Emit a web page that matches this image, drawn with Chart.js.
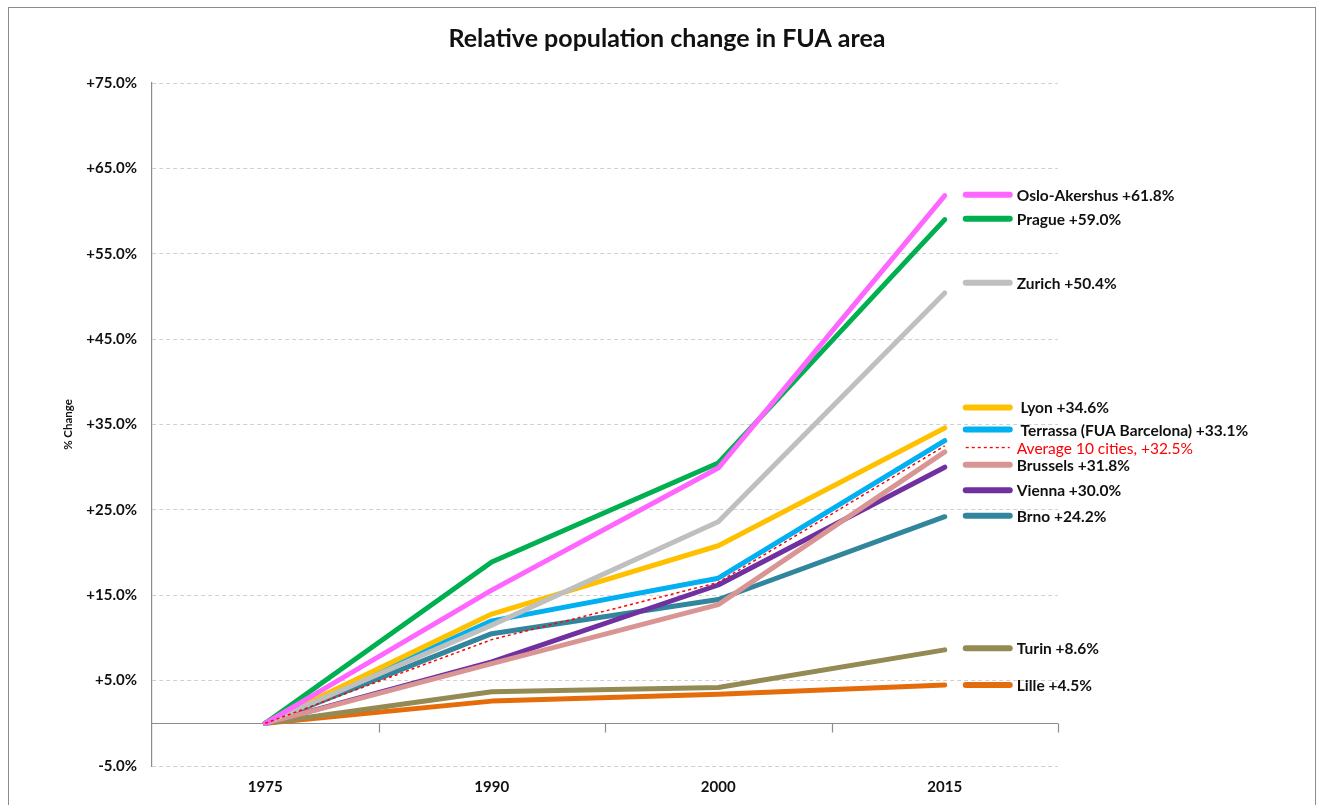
<!DOCTYPE html>
<html>
<head>
<meta charset="utf-8">
<script src="https://cdn.jsdelivr.net/npm/chart.js@4.4.1/dist/chart.umd.min.js"></script>
<style>
html,body{margin:0;padding:0;background:#fff;}
#wrap{width:1324px;height:805px;position:relative;}
</style>
</head>
<body>
<div id="wrap"><canvas id="c" width="1324" height="805"></canvas></div>
<script>
const years = ['1975', '1990', '2000', '2015'];

const seriesNames = ['Oslo-Akershus', 'Prague', 'Zurich', 'Lyon', 'Terrassa (FUA Barcelona)', 'Average 10 cities', 'Brussels', 'Vienna', 'Brno', 'Turin', 'Lille'];
const legendLabels = ['Oslo-Akershus +61.8%', 'Prague +59.0%', 'Zurich +50.4%', ' Lyon +34.6%', ' Terrassa (FUA Barcelona) +33.1%', 'Average 10 cities, +32.5%', 'Brussels +31.8%', 'Vienna +30.0%', 'Brno +24.2%', 'Turin +8.6%', 'Lille +4.5%'];

const oslo     = [0, 15.6, 29.9, 61.8];
const prague   = [0, 18.9, 30.5, 59.0];
const zurich   = [0, 11.5, 23.6, 50.4];
const lyon     = [0, 12.8, 20.8, 34.6];
const terrassa = [0, 12.0, 17.0, 33.1];
const average  = [0, 9.8, 16.5, 32.5];
const brussels = [0, 7.0, 13.9, 31.8];
const vienna   = [0, 7.2, 16.2, 30.0];
const brno     = [0, 10.5, 14.5, 24.2];
const turin    = [0, 3.7, 4.2, 8.6];
const lille    = [0, 2.6, 3.4, 4.5];

// vertical position (in % units) of each legend entry beside the line ends
const legendAt = [61.9, 59.1, 51.6, 37.0, 34.4, 32.3, 30.3, 27.3, 24.3, 8.8, 4.5];

const colors = ['#FF66FF', '#00B050', '#BFBFBF', '#FFC000', '#00B0F0', '#FF0000', '#D99594', '#7030A0', '#31859C', '#948A54', '#E46C0A'];
const values = [oslo, prague, zurich, lyon, terrassa, average, brussels, vienna, brno, turin, lille];

const titleText = 'Relative population change in FUA area';
const FONT = 'Lato, "Liberation Sans", Arial, sans-serif';

const datasets = values.map((v, i) => {
  const isAvg = seriesNames[i] === 'Average 10 cities';
  return {
    label: seriesNames[i],
    data: v,
    borderColor: colors[i],
    backgroundColor: colors[i],
    borderWidth: isAvg ? 1.5 : 5,
    borderDash: isAvg ? [3, 3] : [],
    borderCapStyle: isAvg ? 'butt' : 'round',
    borderJoinStyle: 'round',
    pointRadius: 0,
    tension: 0,
    fill: false,
    order: isAvg ? 0 : 1
  };
});

const decor = {
  id: 'decor',
  beforeDraw(chart) {
    const ctx = chart.ctx;
    ctx.save();
    ctx.strokeStyle = '#8c8c8c';
    ctx.lineWidth = 1;
    ctx.strokeRect(8.5, 7.5, 1307, 820);
    ctx.fillStyle = '#111';
    ctx.font = 'bold 25px ' + FONT;
    ctx.textAlign = 'center';
    ctx.textBaseline = 'middle';
    ctx.fillText(titleText, 667, 39);
    ctx.restore();
  },
  beforeDatasetsDraw(chart) {
    const ctx = chart.ctx;
    const xs = chart.scales.x, ys = chart.scales.y;
    const y0 = Math.round(ys.getPixelForValue(0)) + 0.5;
    ctx.save();
    ctx.strokeStyle = '#8c8c8c';
    ctx.lineWidth = 1.2;
    ctx.beginPath();
    ctx.moveTo(xs.left, y0);
    ctx.lineTo(xs.right, y0);
    const step = xs.getPixelForValue(1) - xs.getPixelForValue(0);
    for (let i = 0; i < years.length; i++) {
      const bx = Math.round(xs.getPixelForValue(i) + step / 2) + 0.5;
      ctx.moveTo(bx, y0);
      ctx.lineTo(bx, y0 + 9);
    }
    ctx.stroke();
    ctx.restore();
  }
};

const sideLegend = {
  id: 'sideLegend',
  afterDraw(chart) {
    const ctx = chart.ctx;
    const xs = chart.scales.x, ys = chart.scales.y;
    const xEnd = xs.getPixelForValue(years.length - 1);
    const x1 = xEnd + 21, x2 = xEnd + 65, tx = xEnd + 72;
    ctx.save();
    ctx.textBaseline = 'middle';
    ctx.textAlign = 'left';
    legendLabels.forEach((lab, i) => {
      const y = ys.getPixelForValue(legendAt[i]);
      const isAvg = seriesNames[i] === 'Average 10 cities';
      ctx.beginPath();
      ctx.strokeStyle = colors[i];
      if (isAvg) {
        ctx.lineWidth = 1.3;
        ctx.setLineDash([3, 3]);
        ctx.lineCap = 'butt';
      } else {
        ctx.lineWidth = 6;
        ctx.setLineDash([]);
        ctx.lineCap = 'round';
      }
      ctx.moveTo(x1, y);
      ctx.lineTo(x2, y);
      ctx.stroke();
      ctx.setLineDash([]);
      ctx.fillStyle = isAvg ? '#FF0000' : '#111111';
      ctx.font = (isAvg ? '' : 'bold ') + '15.5px ' + FONT;
      ctx.fillText(lab, tx, y + 1);
    });
    ctx.restore();
  }
};

new Chart(document.getElementById('c'), {
  type: 'line',
  data: { labels: years, datasets: datasets },
  plugins: [decor, sideLegend],
  options: {
    responsive: false,
    animation: false,
    layout: { padding: { top: 83, left: 61, right: 266, bottom: 4 } },
    plugins: {
      legend: { display: false },
      tooltip: { enabled: false },
      title: { display: false }
    },
    scales: {
      x: {
        offset: true,
        grid: { display: false, drawTicks: false },
        border: { display: false },
        afterFit(scale) { scale.height = 35; },
        ticks: {
          color: '#111',
          font: { family: FONT, size: 15, weight: 'bold' },
          padding: 12,
          maxRotation: 0
        }
      },
      y: {
        min: -5,
        max: 75,
        afterBuildTicks(scale) {
          scale.ticks = [-5, 5, 15, 25, 35, 45, 55, 65, 75].map(v => ({ value: v }));
        },
        afterFit(scale) { scale.width = 91; },
        grid: {
          color: '#d0d0d0',
          lineWidth: 1,
          drawTicks: false
        },
        border: { display: true, color: '#8c8c8c', width: 1.2, dash: [4, 3] },
        ticks: {
          color: '#111',
          font: { family: FONT, size: 15, weight: 'bold' },
          padding: 15,
          callback: (v) => (v > 0 ? '+' : '') + Number(v).toFixed(1) + '%'
        },
        title: {
          display: true,
          text: '% Change',
          color: '#111',
          font: { family: FONT, size: 11.5, weight: 'bold' },
          padding: { top: 0, bottom: 0 }
        }
      }
    }
  }
});
</script>
</body>
</html>
